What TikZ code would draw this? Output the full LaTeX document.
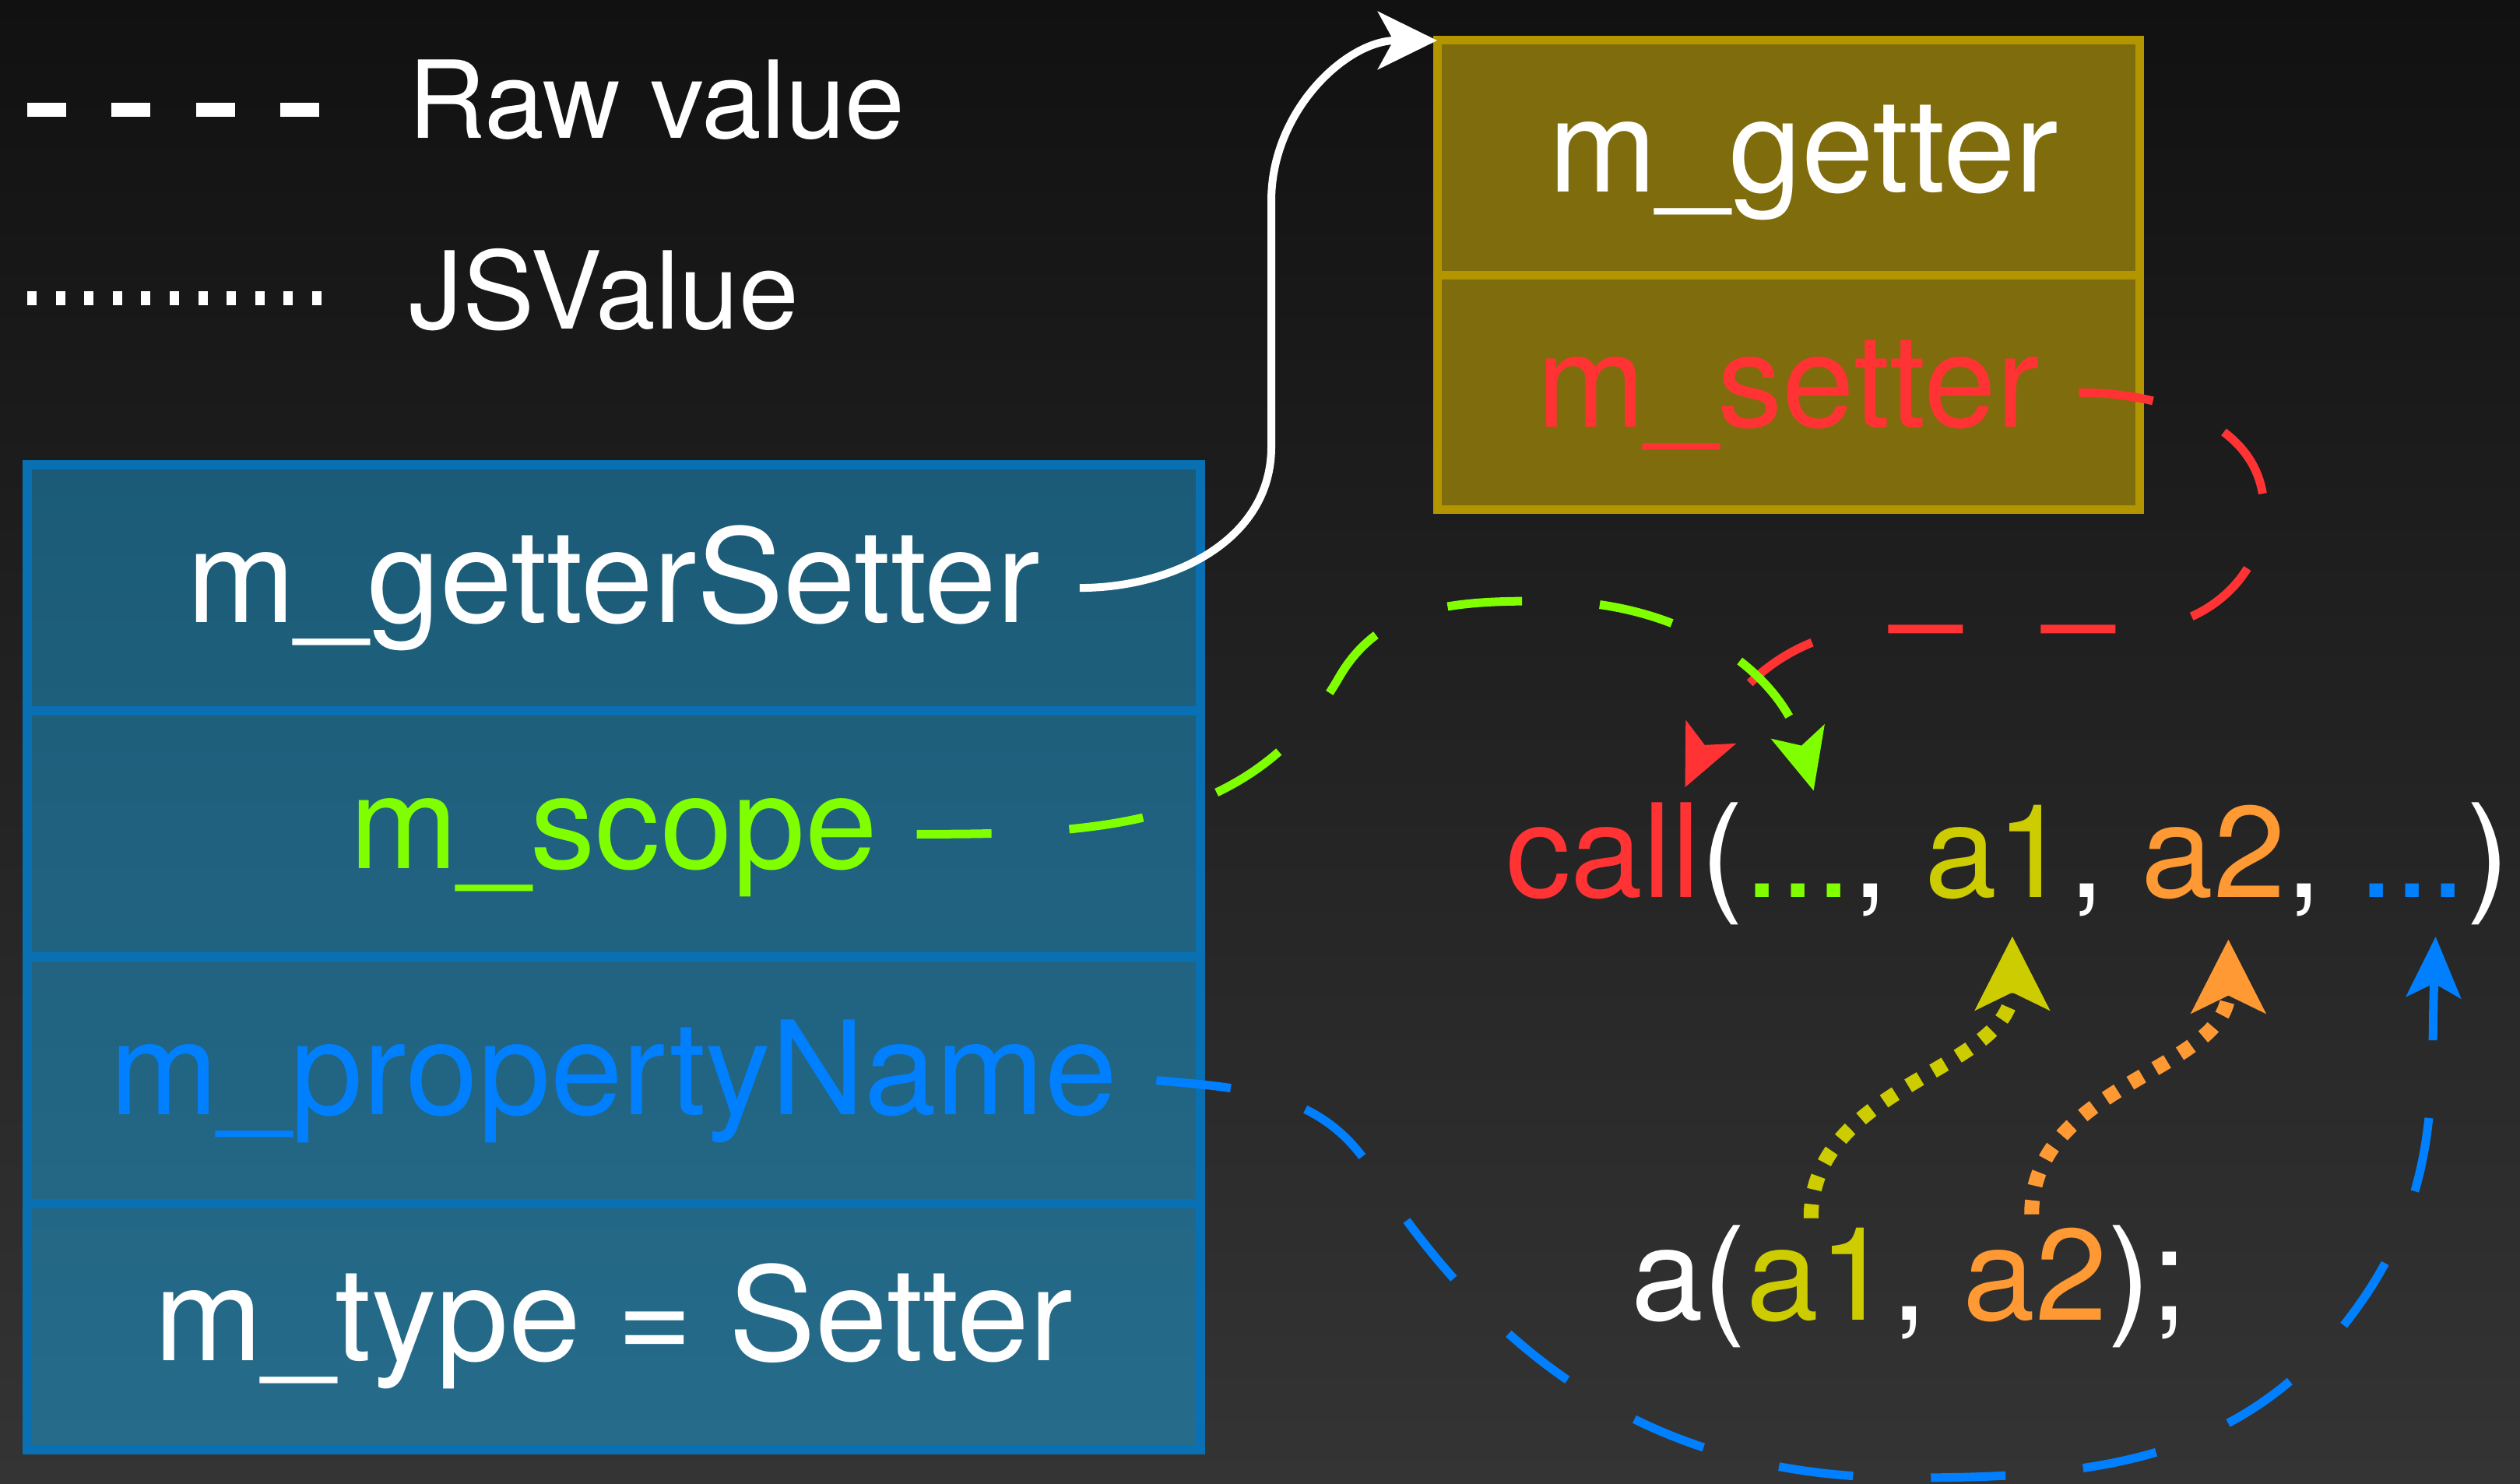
\documentclass[tikz,border=0pt]{standalone}
\usepackage{fontspec}
\setmainfont{TeX Gyre Heros}
\usetikzlibrary{arrows.meta,positioning}

\definecolor{bgtop}{RGB}{17,17,17}
\definecolor{bgbot}{RGB}{52,52,52}
\definecolor{boxedge}{RGB}{10,112,180}
\definecolor{boxtop}{RGB}{27,91,119}
\definecolor{boxbot}{RGB}{38,107,138}
\definecolor{pairedge}{RGB}{179,149,0}
\definecolor{pairfill}{RGB}{127,108,12}
\definecolor{setred}{RGB}{255,51,51}
\definecolor{scopegreen}{RGB}{128,255,0}
\definecolor{nameblue}{RGB}{0,128,255}
\definecolor{argyellow}{RGB}{204,204,0}
\definecolor{argorange}{RGB}{255,153,51}

\newcommand{\fieldfont}{\fontsize{47.5}{57}\selectfont}
\newcommand{\legendfont}{\fontsize{39.3}{47}\selectfont}

\begin{document}
\begin{tikzpicture}

\tikzset{
    row/.style 2 args={draw=boxedge, line width=0.12cm, top color=#1, bottom color=#2, minimum width=15.075cm, minimum height=3.1625cm, inner sep=0pt, outer sep=0pt},
    slot/.style={draw=pairedge, fill=pairfill, line width=0.11cm, minimum width=9.02cm, minimum height=3.015cm, inner sep=0pt, outer sep=0pt},
    field/.style={font=\fieldfont, text=white, text height=1.25cm, text depth=0.37cm, inner xsep=0.5cm, inner ysep=0pt},
    part/.style={font=\fieldfont, text=white, inner sep=0pt, outer sep=0pt},
    rawline/.style={line width=0.11cm, dash pattern=on 0.96cm off 1cm},
    jsline/.style={line width=0.19cm, dash pattern=on 0.18cm off 0.19cm},
    smallhead/.style={-{Stealth[length=0.78cm, width=0.7cm, inset=0.18cm]}},
    bighead/.style={-{Stealth[length=0.94cm, width=0.94cm, inset=0.22cm]}}
}

\useasboundingbox (0,0) rectangle (32.37,19.05);
\shade[top color=bgtop, bottom color=bgbot] (0,0) rectangle (32.37,19.05);

% legend
\draw[white, line width=0.18cm, dash pattern=on 0.5cm off 0.583cm] (0.35,17.64) -- (4.13,17.64);
\draw[white, line width=0.18cm, dash pattern=on 0.12cm off 0.246cm] (0.35,15.22) -- (4.13,15.22);
\node[font=\legendfont, text=white, anchor=base west, inner sep=0pt] (rawKey) at (5.24,17.27) {Raw value};
\node[font=\legendfont, text=white, anchor=base west, inner sep=0pt] (jsKey) at (5.25,14.82) {JSValue};

\node[row={boxtop}{boxbot!25!boxtop}] (r1) at (7.8825,11.49875) {};
\node[row={boxbot!25!boxtop}{boxbot!50!boxtop}, below=0pt of r1] (r2) {};
\node[row={boxbot!50!boxtop}{boxbot!75!boxtop}, below=0pt of r2] (r3) {};
\node[row={boxbot!75!boxtop}{boxbot}, below=0pt of r3] (r4) {};
\node[field] (gsText) at (r1) {m\_getterSetter};
\node[field, text=scopegreen] (scText) at (r2) {m\_scope};
\node[field, text=nameblue] (pnText) at (r3) {m\_propertyName};
\node[field] (tyText) at (r4) {m\_type = Setter};

\node[slot] (yg) at (22.97,17.0225) {};
\node[slot, below=0pt of yg] (ys) {};
\node[field, xshift=2mm] (getText) at (yg) {m\_getter};
\node[field, text=setred] (setText) at (ys) {m\_setter};

\node[part, text=setred, anchor=base west] (callfn) at (19.34,7.52) {call};
\node[part, base right=0pt of callfn] (lpar) {(};
\node[part, text=scopegreen, base right=0pt of lpar] (dotsA) {...};
\node[part, base right=0pt of dotsA] (comA) {,\kern.278em};
\node[part, text=argyellow, base right=0pt of comA] (argA) {a1};
\node[part, base right=0pt of argA] (comB) {,\kern.278em};
\node[part, text=argorange, base right=0pt of comB] (argB) {a2};
\node[part, base right=0pt of argB] (comC) {,\kern.278em};
\node[part, text=nameblue, base right=0pt of comC] (dotsB) {...};
\node[part, base right=0pt of dotsB] (rpar) {)};

\node[part, anchor=base west] (aCall) at (20.95,2.10) {a(};
\node[part, text=argyellow, base right=0pt of aCall] (argAlo) {a1};
\node[part, base right=0pt of argAlo] (comLo) {,\kern.278em};
\node[part, text=argorange, base right=0pt of comLo] (argBlo) {a2};
\node[part, base right=0pt of argBlo] (aEnd) {);};

\draw[white, line width=0.1cm, -{Stealth[length=0.76cm, width=0.74cm, inset=0.2cm]}] (gsText.east) to[out=0,in=-90] (16.33,13.31) -- (16.33,16.47) to[out=90,in=180] (yg.north west);

\draw[rawline, setred, smallhead] (setText.east) to[out=0,in=90] (29.08,12.50) to[out=-90,in=0] (27.4,10.97) -- (24.2,10.97) to[out=180,in=65] ([xshift=-2mm,yshift=2mm]callfn.north east);

\draw[rawline, scopegreen, smallhead] (scText.east) to[out=0,in=-120] (17.20,10.35) to[out=60,in=180] (19.90,11.33) to[out=0,in=105] ([xshift=2mm,yshift=12mm]dotsA.north);

\draw[rawline, nameblue, smallhead] (pnText.east) to[out=-5,in=123] (17.60,4.05) to[out=-57,in=180] (24.50,0.07) to[out=0,in=-127] (30.20,2.15) to[out=53,in=-92] ([xshift=3mm,yshift=-5mm]dotsB.south);

\draw[jsline, argyellow, bighead] ([xshift=-1mm,yshift=1.2mm]argAlo.north) to[out=90,in=-90] ([xshift=2mm,yshift=-4.7mm]argA.south);
\draw[jsline, argorange, bighead] ([xshift=-0.5mm,yshift=1.7mm]argBlo.north) to[out=90,in=-90] ([xshift=1.9mm,yshift=-5.1mm]argB.south);

\end{tikzpicture}
\end{document}
